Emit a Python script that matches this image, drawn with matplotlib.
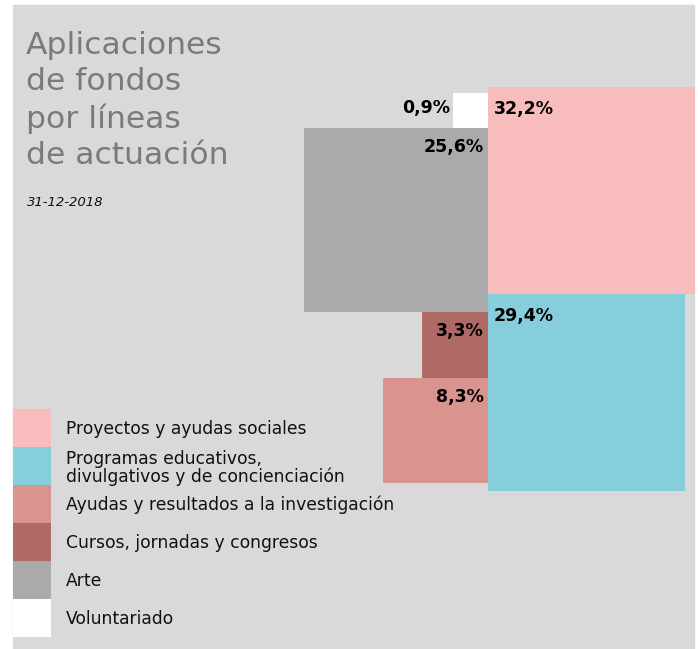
import numpy as np
import matplotlib.pyplot as plt
from matplotlib.patches import Rectangle

# data
categories = ["Proyectos y ayudas sociales",
              "Programas educativos,\ndivulgativos y de concienciación",
              "Ayudas y resultados a la investigación",
              "Cursos, jornadas y congresos",
              "Arte",
              "Voluntariado"]
values = [32.2, 29.4, 8.3, 3.3, 25.6, 0.9]
labels = ["32,2%", "29,4%", "8,3%", "3,3%", "25,6%", "0,9%"]
colors = ["#f8bcbc", "#87cedc", "#da9490", "#b06a66", "#aaaaaa", "#ffffff"]

BG = "#d9d9d9"
plt.rcParams['font.family'] = ['DejaVu Sans']

fig = plt.figure(figsize=(6.98, 6.49), dpi=100)
ax = fig.add_axes([0, 0, 1, 1])
ax.set_xlim(0, 698)
ax.set_ylim(649, 0)
ax.axis("off")

# gray panel
ax.add_patch(Rectangle((13, 5), 681, 650, color=BG, zorder=0))

# squares: area proportional to share
k = 36.4
side = {c: k * np.sqrt(v) for c, v in zip(categories, values)}
split = 488

def square(i, x, y, s):
    ax.add_patch(Rectangle((x, y), s, s, color=colors[i], lw=0, zorder=2))

# right column: stacked downward
y = 87
for i in [0, 1]:
    s = side[categories[i]]
    square(i, split, y, s)
    ax.text(split + 6, y + 13, labels[i], fontsize=12.5, fontweight="bold",
            ha="left", va="top", zorder=3)
    y += s

# left column: gray anchored, white above, others below
gtop = 128
s_art = side[categories[4]]
square(4, split - s_art, gtop, s_art)
ax.text(split - 4, gtop + 10, labels[4], fontsize=12.5, fontweight="bold",
        ha="right", va="top", zorder=3)
s_vol = side[categories[5]]
square(5, split - s_vol, gtop - s_vol, s_vol)
ax.text(split - s_vol - 3, gtop - s_vol + 6, labels[5], fontsize=12.5,
        fontweight="bold", ha="right", va="top", zorder=3)
y = gtop + s_art
for i in [3, 2]:
    s = side[categories[i]]
    square(i, split - s, y, s)
    ax.text(split - 4, y + 10, labels[i], fontsize=12.5, fontweight="bold",
            ha="right", va="top", zorder=3)
    y += s

# title
ax.text(26, 31, "Aplicaciones\nde fondos\npor líneas\nde actuación", fontsize=22.6,
        color="#7a7a7a", ha="left", va="top", linespacing=1.3)
ax.text(27, 202, "31-12-2018", fontsize=9.5, style="italic", ha="left",
        va="center", color="#111111")

# legend
ly = 409
lh = 38
for i, c in enumerate(categories):
    ax.add_patch(Rectangle((13, ly + i * lh), 38, lh, color=colors[i], lw=0, zorder=2))
    ty = ly + i * lh + lh / 2 + 1
    if i == 1:
        ty += 1
    ax.text(66, ty, c, fontsize=12.3, ha="left", va="center", color="#111111",
            linespacing=1.0)

fig.savefig("out.png", dpi=100)
